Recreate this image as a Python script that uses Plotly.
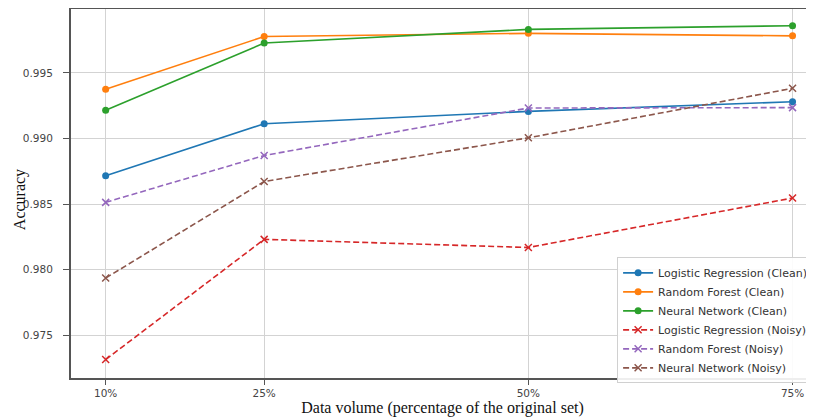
import plotly.graph_objects as go

x_vals = [10, 25, 50, 75]
x_labels = ["10%", "25%", "50%", "75%"]
y_ticks = [0.975, 0.98, 0.985, 0.99, 0.995]
y_labels = ["0.975", "0.980", "0.985", "0.990", "0.995"]

lr_clean = [0.98715, 0.99112, 0.99206, 0.99280]
rf_clean = [0.99375, 0.99777, 0.99801, 0.99782]
nn_clean = [0.99215, 0.99727, 0.99831, 0.99859]
lr_noisy = [0.97315, 0.98231, 0.98169, 0.98546]
rf_noisy = [0.98513, 0.98870, 0.99232, 0.99235]
nn_noisy = [0.97936, 0.98672, 0.99005, 0.99382]

series = [
    ("Logistic Regression (Clean)", lr_clean, "#1f77b4", False),
    ("Random Forest (Clean)", rf_clean, "#ff7f0e", False),
    ("Neural Network (Clean)", nn_clean, "#2ca02c", False),
    ("Logistic Regression (Noisy)", lr_noisy, "#d62728", True),
    ("Random Forest (Noisy)", rf_noisy, "#9467bd", True),
    ("Neural Network (Noisy)", nn_noisy, "#8c564b", True),
]

Y_RANGE = [0.971743, 0.999866]

fig = go.Figure()
for name, ys, color, noisy in series:
    if noisy:
        fig.add_trace(go.Scatter(
            x=x_vals, y=ys, name=name, mode="lines+markers",
            line=dict(color=color, width=1.6, dash="6px,3px"),
            marker=dict(symbol="x-thin", size=7, line=dict(color=color, width=1.5), color=color),
        ))
    else:
        fig.add_trace(go.Scatter(
            x=x_vals, y=ys, name=name, mode="lines+markers",
            line=dict(color=color, width=1.6),
            marker=dict(symbol="circle", size=7, color=color),
        ))

# empty helper trace so the label-only overlay axis is drawn
fig.add_trace(go.Scatter(x=[], y=[], yaxis="y2", showlegend=False, hoverinfo="skip"))

# the page body has an 8px margin, so the figure is offset by (8, 8)
fig.update_layout(
    width=814, height=418,
    margin=dict(l=63, r=8, t=1, b=48, autoexpand=False),
    plot_bgcolor="white", paper_bgcolor="white",
    font=dict(family="DejaVu Sans", size=10.5, color="#444"),
    legend=dict(
        x=0.735, y=0.327, xanchor="left", yanchor="top",
        bgcolor="rgba(255,255,255,0.9)", bordercolor="#d0d0d0", borderwidth=1,
        font=dict(family="DejaVu Sans", size=11, color="#333"),
        tracegroupgap=0, itemwidth=30,
    ),
    showlegend=True,
    annotations=[dict(
        text="Accuracy", textangle=-90, xref="paper", yref="paper",
        x=-0.0686, y=0.482, xanchor="center", yanchor="middle", showarrow=False,
        font=dict(family="Liberation Serif", size=16, color="#111"),
    )],
    yaxis=dict(
        range=Y_RANGE, tickvals=y_ticks, showticklabels=False,
        showgrid=True, gridcolor="#d3d3d3", gridwidth=1,
        showline=True, linecolor="#555", linewidth=1.5,
        ticks="outside", ticklen=6, tickcolor="#555", zeroline=False,
        automargin=False,
    ),
    # label-only overlay axis: same scale, tick labels set further from the spine
    yaxis2=dict(
        overlaying="y", side="left", anchor="x", range=Y_RANGE,
        tickvals=y_ticks, ticktext=y_labels, showticklabels=True,
        ticks="outside", ticklen=15, tickcolor="rgba(0,0,0,0)",
        showgrid=False, showline=False, zeroline=False, automargin=False,
    ),
    xaxis=dict(
        range=[6.72, 77.03], tickvals=x_vals, ticktext=x_labels,
        showgrid=True, gridcolor="#d3d3d3", gridwidth=1,
        showline=True, linecolor="#555", linewidth=1.5, mirror=True,
        ticks="outside", ticklen=5, tickcolor="#555", zeroline=False,
        automargin=False,
        title=dict(text="Data volume (percentage of the original set)",
                   font=dict(family="Liberation Serif", size=16, color="#111"), standoff=3),
    ),
)
fig.write_html("out.html")
